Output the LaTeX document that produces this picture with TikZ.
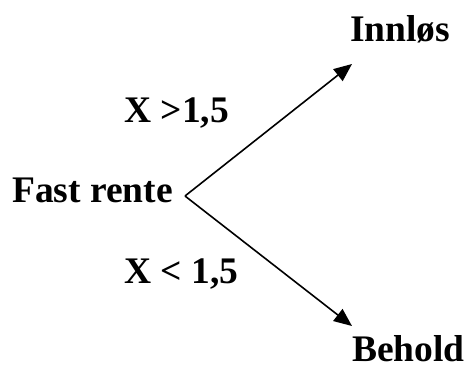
\documentclass[tikz,border=0pt]{standalone}
\usepackage{fontspec}
\setmainfont{Liberation Serif}
\usetikzlibrary{arrows.meta}
\begin{document}
\begin{tikzpicture}[x=1pt,y=-1pt,
  lbl/.style={anchor=base west,inner sep=0pt,font=\fontsize{37.5}{40}\selectfont\bfseries},
  arr/.style={line width=1.6pt,-{Triangle[length=18pt,width=15pt]}}]
\useasboundingbox (0,0) rectangle (467,365);
\node[lbl] (fast) at (12,202) {Fast rente};
\node[lbl] (inn) at (350,41) {Innløs};
\node[lbl] (beh) at (352,361) {Behold};
\node[lbl] (gt) at (124,122) {X >1,5};
\node[lbl] (lt) at (124,283) {X < 1,5};
\coordinate (v) at (185,196);
\coordinate (t1) at (352,64);
\coordinate (t2) at (352,326);
\draw[arr] (v) -- (t1);
\draw[arr] (v) -- (t2);
\end{tikzpicture}
\end{document}
